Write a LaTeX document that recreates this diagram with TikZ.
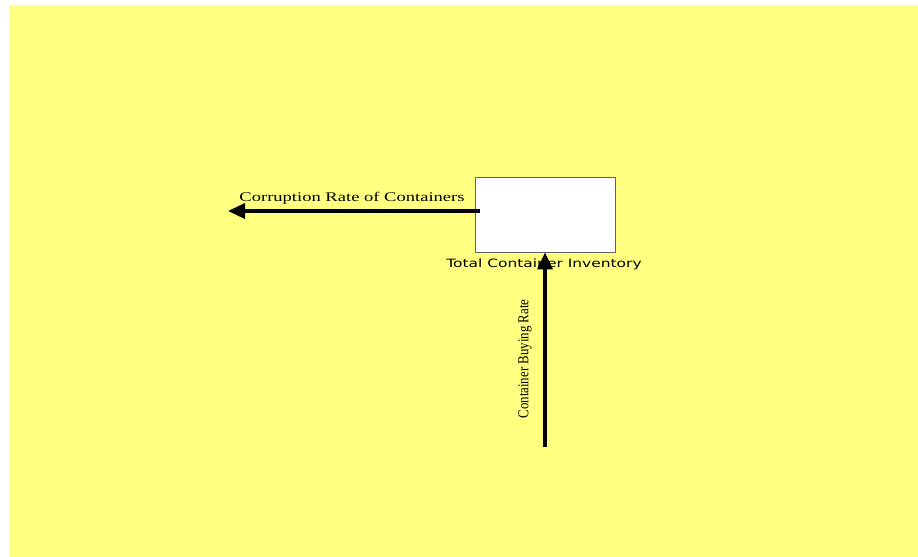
\documentclass[tikz,border=0pt]{standalone}
\usepackage{fontspec}
\setmainfont{Liberation Serif}
\newfontfamily\labsans{DejaVu Sans}
\usetikzlibrary{arrows.meta}
\definecolor{bgyellow}{RGB}{255,255,128}
\definecolor{boxgray}{RGB}{100,100,100}
\tikzset{
  flow/.style={line width=3.5bp,-{Triangle[length=17bp,width=15bp]}},
  stockbox/.style={draw=boxgray,fill=white,line width=0.8bp,minimum width=140bp,minimum height=75bp,inner sep=0pt},
  flowlabel/.style={inner sep=0pt},
  stocklabel/.style={font=\labsans\fontsize{11.5}{13}\selectfont,inner sep=0pt}
}
\begin{document}
\begin{tikzpicture}[x=1bp,y=-1bp]
\useasboundingbox (0,0) rectangle (918,557);
\fill[white] (0,0) rectangle (918,557);
\fill[bgyellow] (9,5) rectangle (918,557);
\node[stockbox] (stock) at (545,214.5) {};
\node[stocklabel,xscale=1.35] (stocklab) at (544,264.5) {Total Container Inventory};
\coordinate (outstart) at (480,211);
\coordinate (outend) at (228,211);
\coordinate (instart) at (545,447);
\draw[flow] (outstart) -- (outend);
\draw[flow] (instart) -- (stock.south);
\node[flowlabel,font=\fontsize{13.3}{15}\selectfont,xscale=1.4] (outlab) at (352,198.5) {Corruption Rate of Containers};
\node[flowlabel,rotate=90,font=\fontsize{15.2}{17}\selectfont,xscale=0.85] (inlab) at (525,359) {Container Buying Rate};
\end{tikzpicture}
\end{document}
